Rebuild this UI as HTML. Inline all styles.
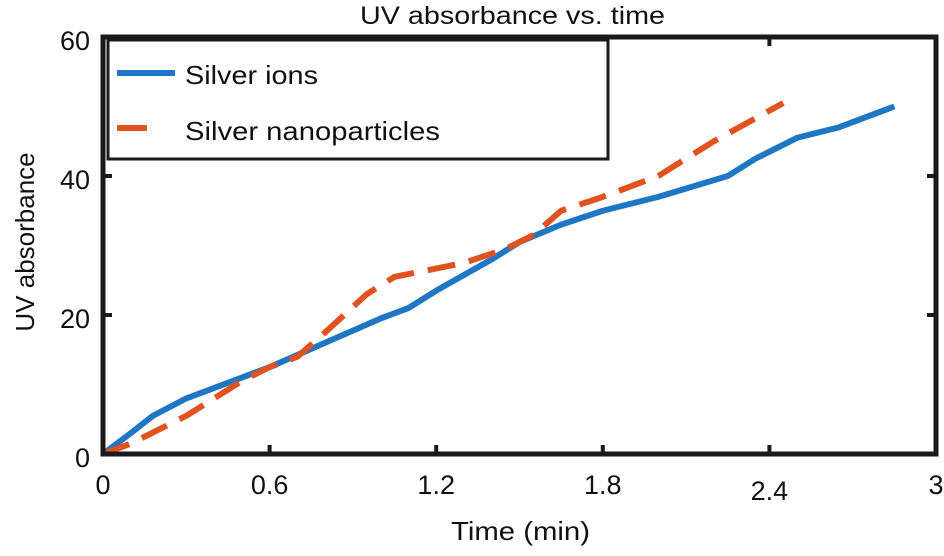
<!DOCTYPE html>
<html><head><meta charset="utf-8"><style>
body{margin:0;background:#fff;}
svg text{font-family:"Liberation Sans",sans-serif;fill:#111;}
</style></head><body>
<svg id="chart" width="944" height="551" viewBox="0 0 944 551">
<text x="360" y="24" font-size="25" textLength="305" lengthAdjust="spacingAndGlyphs">UV absorbance vs. time</text>
<g id="series"></g>
<rect x="103" y="37" width="833" height="417" fill="none" stroke="#1a1a1a" stroke-width="5"/>
<g id="ticks"></g>
<text x="451" y="540" font-size="26" textLength="139" lengthAdjust="spacingAndGlyphs">Time (min)</text>
<text transform="translate(34,242) rotate(-90)" font-size="26" text-anchor="middle">UV absorbance</text>
<g>
<rect x="108" y="40" width="500" height="119" fill="#fff" stroke="#1a1a1a" stroke-width="3"/>
<line x1="117" y1="73" x2="175" y2="73" stroke="#1f77c4" stroke-width="6"/>
<text x="185" y="84" font-size="26" textLength="133" lengthAdjust="spacingAndGlyphs">Silver ions</text>
<line x1="117" y1="128" x2="147" y2="128" stroke="#e0531f" stroke-width="6"/>
<text x="185" y="140" font-size="26" textLength="255" lengthAdjust="spacingAndGlyphs">Silver nanoparticles</text>
</g>
</svg>
<script>
const ionsT=[0,0.1,0.18,0.3,0.5,0.6,0.8,1.0,1.1,1.2,1.4,1.5,1.65,1.8,2.0,2.25,2.35,2.5,2.65,2.85];
const ionsV=[0,3,5.5,8,11,12.5,16,19.5,21,23.5,28,30.5,33,35,37,40,42.5,45.5,47,50];
const nanoT=[0,0.1,0.2,0.3,0.5,0.6,0.7,0.8,0.95,1.05,1.3,1.45,1.55,1.65,1.8,2.0,2.2,2.45];
const nanoV=[0,1.5,3.5,5.5,10.5,12.5,14,17.5,23,25.5,27.5,29.5,31.5,35,37,40,45,50.5];
const xTicks=[0,0.6,1.2,1.8,2.4,3];
const xTickLabels=["0","0.6","1.2","1.8","2.4","3"];
const yTicks=[0,20,40,60];
const yTickLabels=["0","20","40","60"];
const NS="http://www.w3.org/2000/svg";
const X=v=>103+v/3*833, Y=v=>454-v/60*417;
const sg=document.getElementById('series'), tg=document.getElementById('ticks');
function line(ts,vs,color,dash,name){
  const p=document.createElementNS(NS,'polyline');
  p.setAttribute('points',ts.map((t,i)=>X(t)+','+Y(vs[i])).join(' '));
  p.setAttribute('fill','none');p.setAttribute('stroke',color);p.setAttribute('stroke-width','6');
  p.setAttribute('stroke-linejoin','round');
  if(dash)p.setAttribute('stroke-dasharray',dash);
  
  
  sg.appendChild(p);
}
line(ionsT,ionsV,'#1f77c4',null,'series-silver-ions');
line(nanoT,nanoV,'#e0531f','28 14','series-silver-nanoparticles');
xTicks.forEach((t,i)=>{
  const l=document.createElementNS(NS,'path');
  l.setAttribute('d',`M${X(t)} 454v-9M${X(t)} 37v9`);l.setAttribute('stroke','#1a1a1a');l.setAttribute('stroke-width','4');
  
  
  tg.appendChild(l);
  const tx=document.createElementNS(NS,'text');
  tx.setAttribute('x',X(t));tx.setAttribute('y',i==4?500:494);tx.setAttribute('font-size','27');tx.setAttribute('text-anchor','middle');
  tx.textContent=xTickLabels[i];
  
  
  tg.appendChild(tx);
});
yTicks.forEach((v,i)=>{
  const l=document.createElementNS(NS,'path');
  l.setAttribute('d',`M103 ${Y(v)}h9M936 ${Y(v)}h-9`);l.setAttribute('stroke','#1a1a1a');l.setAttribute('stroke-width','4');
  
  
  tg.appendChild(l);
  const tx=document.createElementNS(NS,'text');
  tx.setAttribute('x',90);tx.setAttribute('y',Y(v)+13);tx.setAttribute('font-size','27');tx.setAttribute('text-anchor','end');
  tx.textContent=yTickLabels[i];
  
  
  tg.appendChild(tx);
});
</script>
</body></html>
